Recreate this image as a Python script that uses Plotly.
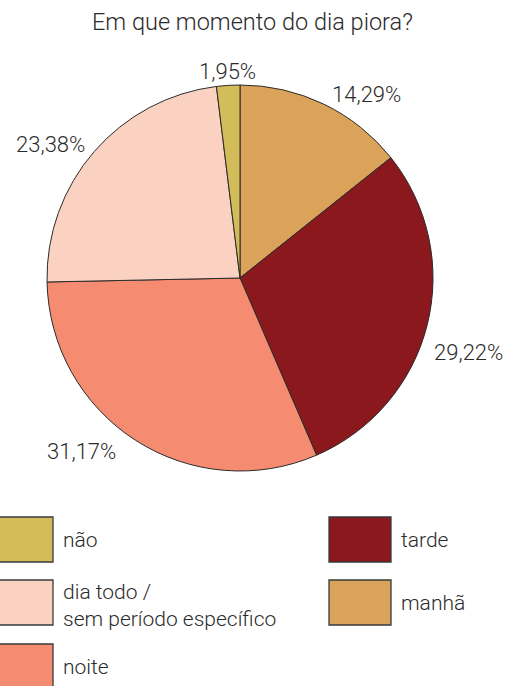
import math
import plotly.graph_objects as go

categories = ["manhã", "tarde", "noite", "dia todo /<br>sem período específico", "não"]
values = [14.29, 29.22, 31.17, 23.38, 1.95]
colors = ["#DBA35A", "#8A181D", "#F58C71", "#FBD2C2", "#D3BD5A"]
pct_labels = [f"{v:.2f}".replace(".", ",") + "%" for v in values]

W, H = 512, 686
FONT = "Roboto, Liberation Sans, sans-serif"
TXT = "#2b2b2b"
cx, cy, R = 240, 278, 193

fig = go.Figure(go.Pie(
    labels=categories, values=values,
    textinfo="none",
    sort=False, direction="clockwise", rotation=0,
    marker=dict(colors=colors, line=dict(color="#2b2b2b", width=1)),
    showlegend=False, hoverinfo="label+percent",
    domain=dict(x=[(cx - R) / W, (cx + R) / W], y=[(H - cy - R) / H, (H - cy + R) / H]),
))

annots, shapes = [], []

# percentage labels: placed just outside each slice at its mid-angle
label_nudges = [(3, -3), (-2, 26), (-14, 5), (-2, -3), (0, -7)]  # layout tweaks (px)
total = sum(values)
cum = 0.0
for v, t, (dx, dy) in zip(values, pct_labels, label_nudges):
    mid = (cum + v / 2) / total * 2 * math.pi
    cum += v
    s, c = math.sin(mid), math.cos(mid)
    px = cx + (R + 7) * s + dx
    py = cy - (R + 7) * c + dy
    xa = "left" if s > 0.3 else ("right" if s < -0.3 else "center")
    annots.append(dict(xref="paper", yref="paper", x=px / W, y=(H - py) / H, text=t,
                       showarrow=False, xanchor=xa, yanchor="middle",
                       font=dict(family=FONT, size=22, color=TXT, weight=300)))

def legend_item(px, py, color, label):
    shapes.append(dict(type="rect", xref="paper", yref="paper",
                       x0=px / W, x1=(px + 62) / W, y0=(H - py - 45) / H, y1=(H - py) / H,
                       fillcolor=color, line=dict(color="#3a3a3a", width=1.3)))
    multi = "<br>" in label
    annots.append(dict(xref="paper", yref="paper", x=(px + 70) / W,
                       y=(H - py + 2) / H if multi else (H - py - 23) / H,
                       text=label, showarrow=False, xanchor="left",
                       yanchor="top" if multi else "middle", align="left",
                       font=dict(family=FONT, size=21, color=TXT, weight=300)))

legend_item(-9, 517, colors[4], categories[4])
legend_item(-9, 580, colors[3], categories[3])
legend_item(-9, 644, colors[2], categories[2])
legend_item(329, 517, colors[1], categories[1])
legend_item(329, 580, colors[0], categories[0])

annots.append(dict(xref="paper", yref="paper", x=252 / W, y=(H - 22) / H,
                   text="Em que momento do dia piora?", showarrow=False,
                   xanchor="center", yanchor="middle",
                   font=dict(family=FONT, size=23.5, color=TXT, weight=300)))

fig.update_layout(width=W, height=H, margin=dict(l=0, r=0, t=0, b=0),
                  paper_bgcolor="white", plot_bgcolor="white",
                  shapes=shapes, annotations=annots)
fig.write_html("out.html", config={"displayModeBar": False},
               post_script="document.body.style.margin='0';")
